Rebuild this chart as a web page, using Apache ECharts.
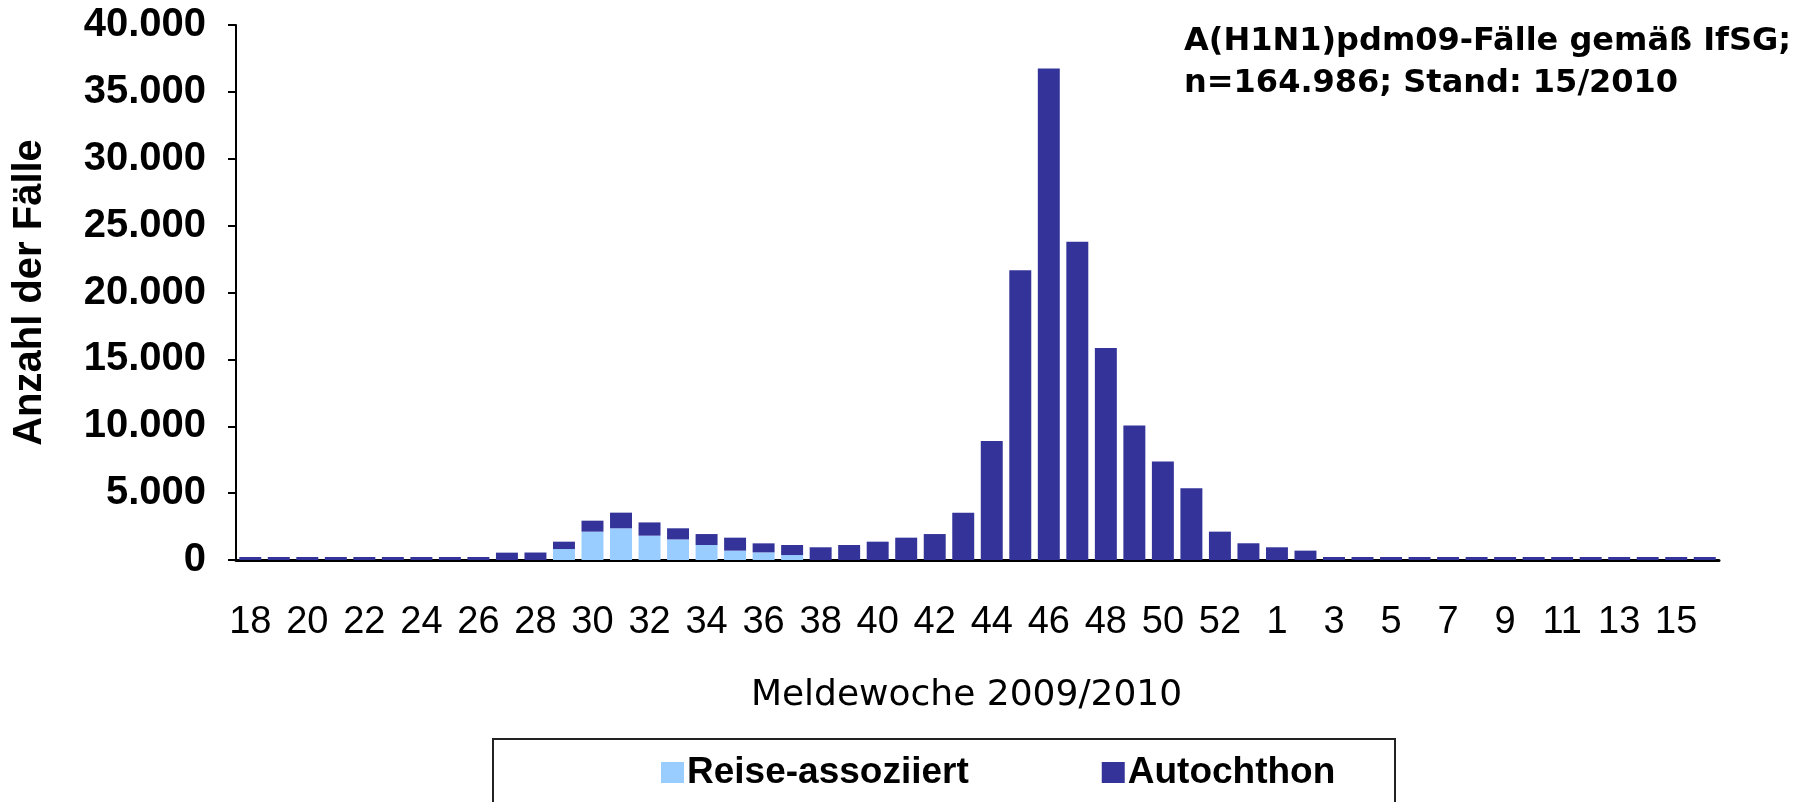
<!DOCTYPE html>
<html>
<head>
<meta charset="utf-8">
<script src="https://cdn.jsdelivr.net/npm/echarts@6/dist/echarts.min.js"></script>
<style>
html,body{margin:0;padding:0;background:#fff;}
#chart{width:1803px;height:802px;}
</style>
</head>
<body>
<div id="chart"></div>
<script>
const weeks = ['18','19','20','21','22','23','24','25','26','27','28','29','30','31','32','33','34','35','36','37','38','39','40','41','42','43','44','45','46','47','48','49','50','51','52','53','1','2','3','4','5','6','7','8','9','10','11','12','13','14','15','16'];
const travel = [0,0,0,0,0,0,0,0,0,0,0,820,2120,2370,1820,1540,1120,700,570,370,0,0,0,0,0,0,0,0,0,0,0,0,0,0,0,0,0,0,0,0,0,0,0,0,0,0,0,0,0,0,0,0];
const autochthon = [10,10,10,15,20,30,40,60,90,550,560,550,820,1170,990,830,820,970,675,750,950,1120,1370,1670,1940,3540,8900,21670,36750,23800,15850,10060,7360,5370,2120,1250,950,700,120,90,70,60,50,40,40,30,30,30,20,20,20,10];
const yTicks = [0,5000,10000,15000,20000,25000,30000,35000,40000];
const seriesNames = ['Reise-assoziiert','Autochthon'];
const noteText = 'A(H1N1)pdm09-Fälle gemäß IfSG;\nn=164.986; Stand: 15/2010';

const chart = echarts.init(document.getElementById('chart'));
const fmt = v => String(v).replace(/\B(?=(\d{3})+(?!\d))/g, '.');
chart.setOption({
  animation: false,
  backgroundColor: '#fff',
  grid: {left: 236, right: 84, top: 25, bottom: 242},
  legend: {
    left: 661, top: 754, padding: 0,
    itemWidth: 23, itemHeight: 21, itemGap: 133, icon: 'rect',
    data: seriesNames,
    textStyle: {fontFamily: 'Liberation Sans', fontWeight: 'bold', fontSize: 37, color: '#000', padding: [0,0,0,-2]}
  },
  xAxis: {
    type: 'category', data: weeks,
    axisLine: {lineStyle: {color: '#000', width: 3}},
    axisTick: {show: false},
    axisLabel: {interval: 1, margin: 44, color: '#000', fontFamily: 'Liberation Sans', fontSize: 38},
    name: 'Meldewoche 2009/2010', nameLocation: 'middle', nameGap: 118,
    nameTextStyle: {color: '#000', fontFamily: 'DejaVu Sans', fontSize: 36, padding: [0, 22, 0, 0]}
  },
  yAxis: {
    type: 'value', min: 0, max: 40000, interval: 5000,
    splitLine: {show: false},
    axisLine: {show: true, lineStyle: {color: '#000', width: 2}},
    axisTick: {show: true, length: 8, lineStyle: {color: '#000', width: 2}},
    axisLabel: {margin: 30, color: '#000', fontFamily: 'Liberation Sans', fontWeight: 'bold', fontSize: 40,
      formatter: v => yTicks.includes(v) ? fmt(v) : ''},
    name: 'Anzahl der Fälle', nameLocation: 'middle', nameGap: 186, nameRotate: 90,
    nameTextStyle: {color: '#000', fontFamily: 'Liberation Sans', fontWeight: 'bold', fontSize: 40}
  },
  graphic: [
    {type: 'rect', left: 492, top: 738, shape: {width: 902, height: 100}, z: -1,
     style: {fill: '#fff', stroke: '#222', lineWidth: 2}},
    {type: 'text', left: 1184, top: 21,
     style: {text: noteText, fill: '#000', font: 'bold 32px "DejaVu Sans"', lineHeight: 42}}
  ],
  series: [
    {name: seriesNames[0], type: 'bar', stack: 'a', data: travel, barWidth: '77%',
     itemStyle: {color: '#99ccff'}},
    {name: seriesNames[1], type: 'bar', stack: 'a', data: autochthon, barWidth: '77%', barMinHeight: 3,
     itemStyle: {color: '#333399'}}
  ]
});
</script>
</body>
</html>
